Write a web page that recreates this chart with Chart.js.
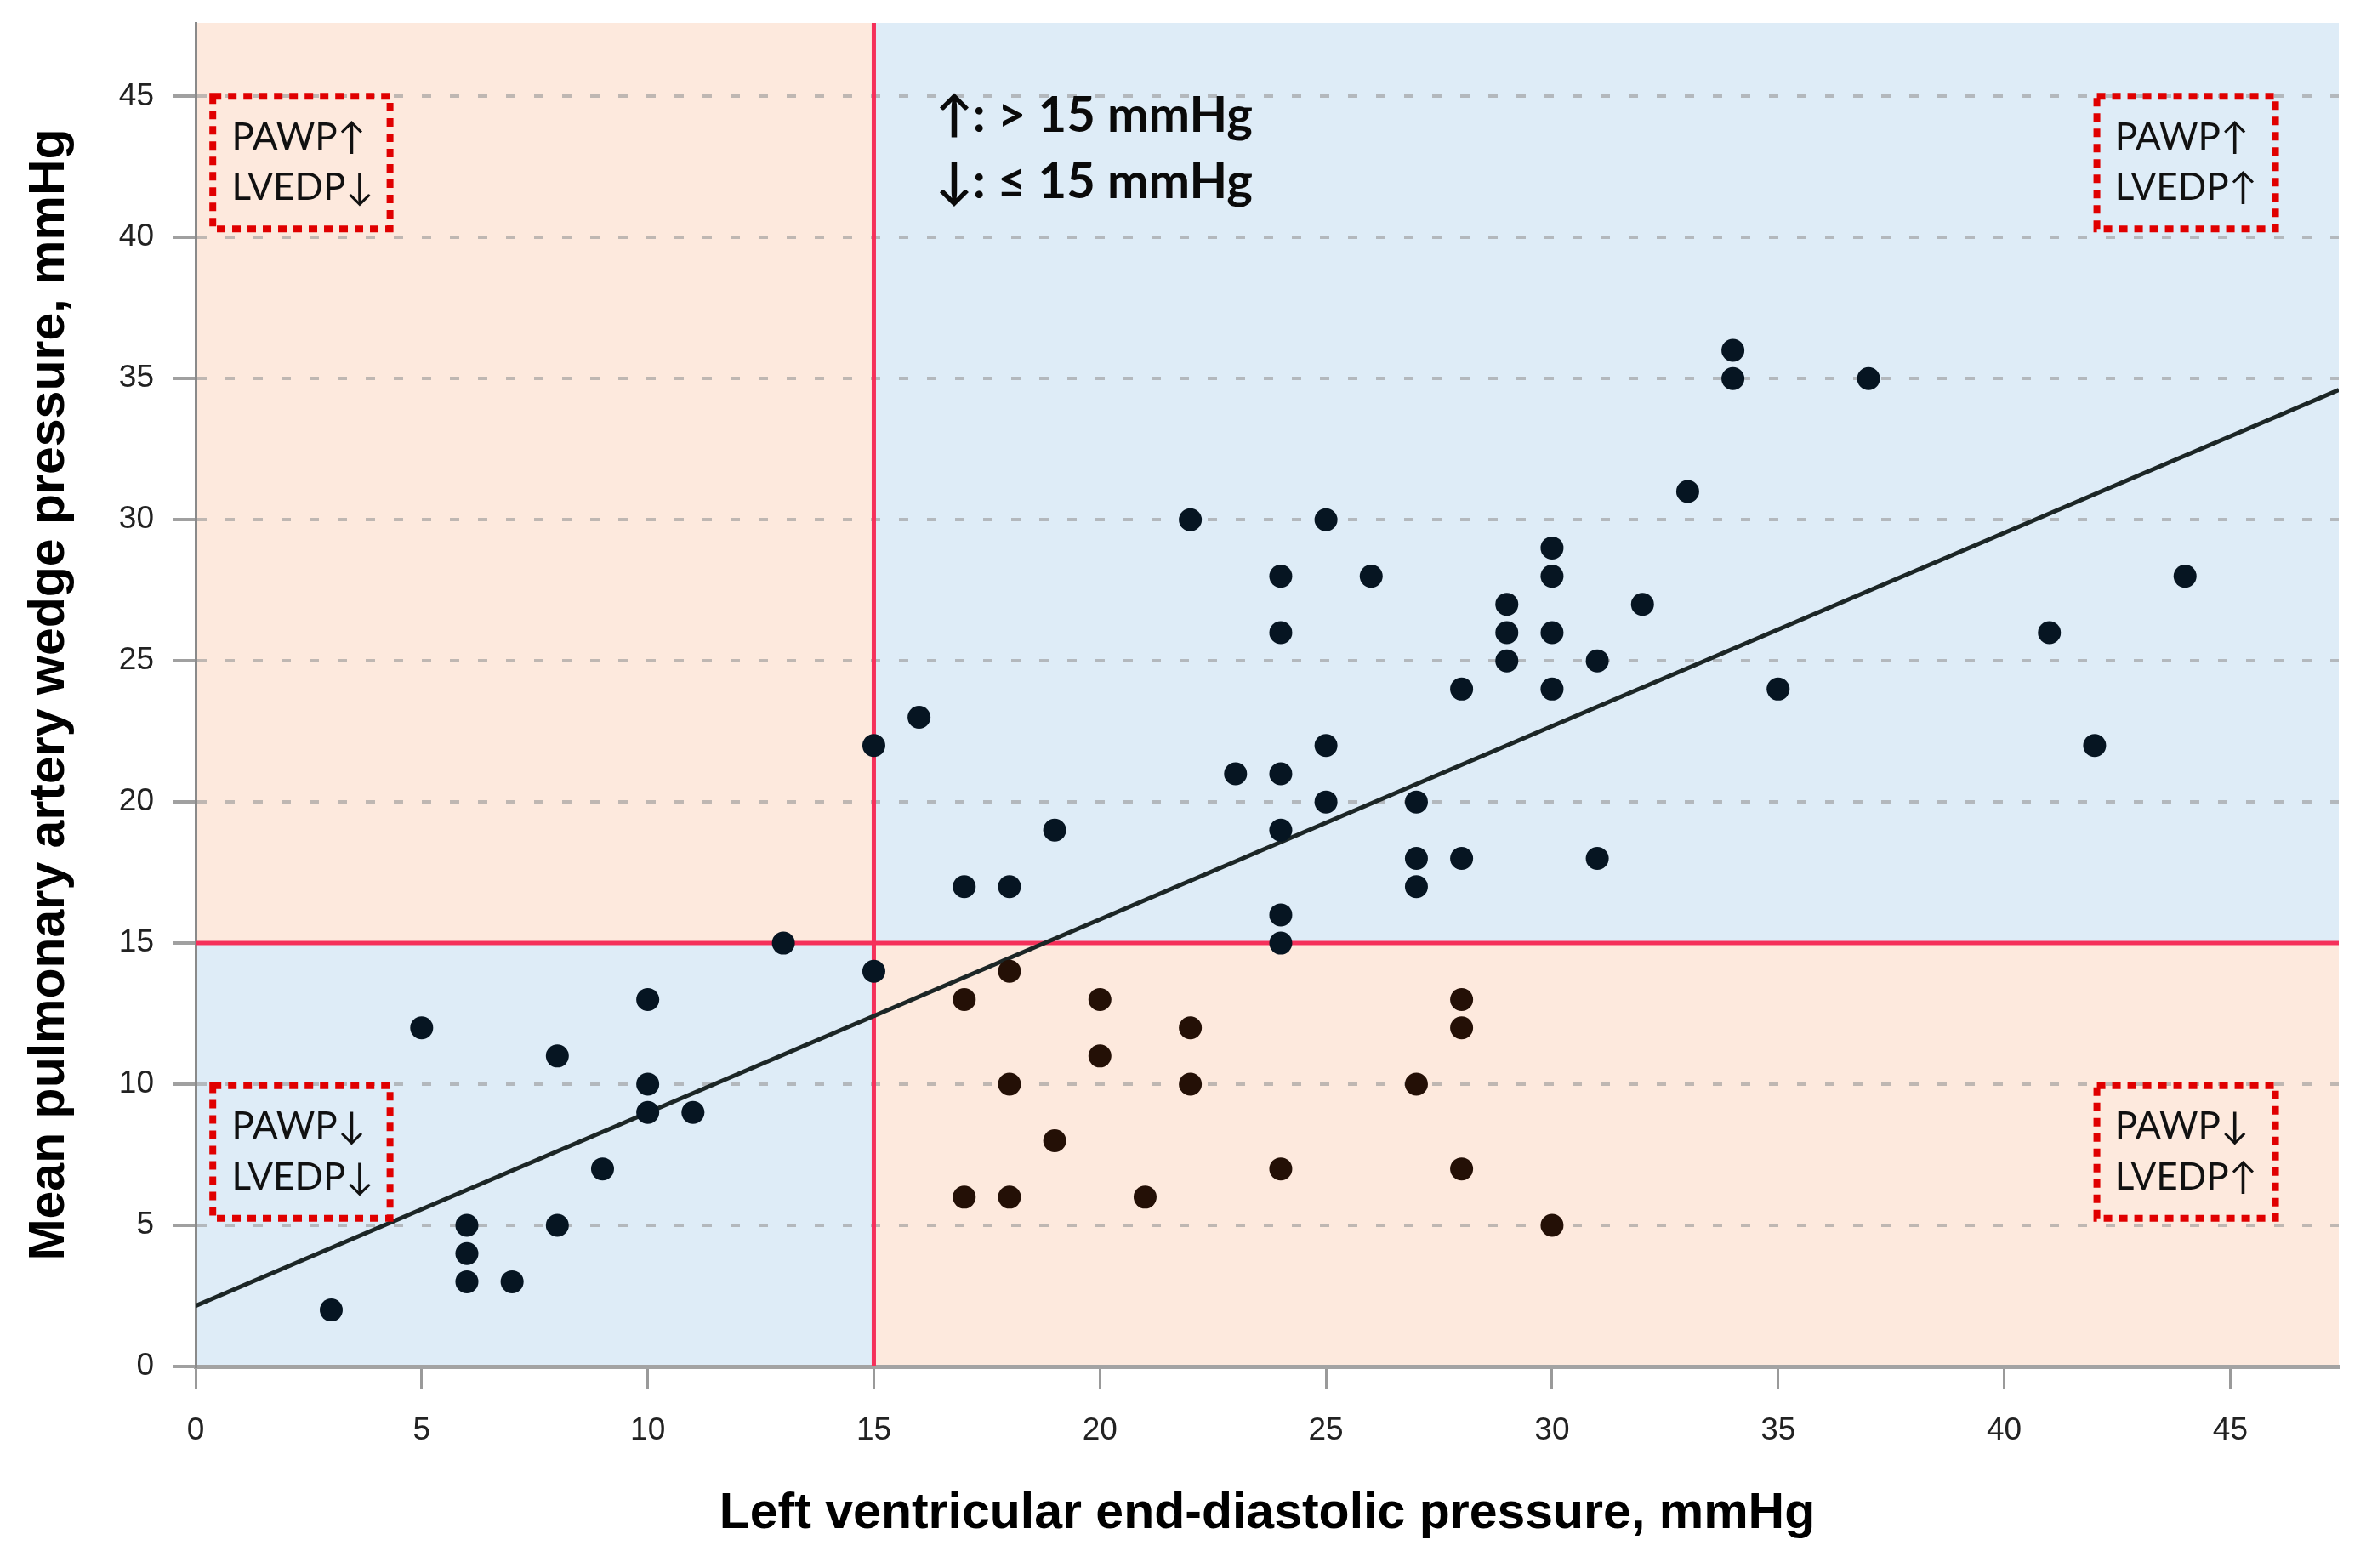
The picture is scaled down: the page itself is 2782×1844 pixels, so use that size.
<!DOCTYPE html>
<html>
<head>
<meta charset="utf-8">
<script src="https://cdn.jsdelivr.net/npm/chart.js@4.4.1/dist/chart.umd.min.js"></script>
<style>
html,body{margin:0;padding:0;background:#ffffff;}
#wrap{width:2782px;height:1844px;position:relative;}
</style>
</head>
<body>
<div id="wrap"><canvas id="c" width="2782" height="1844"></canvas></div>
<script>
// ---------- data ----------
const lvedp = [3,5,6,6,6,7,8,8,9,10,10,10,11,13,15,15,16,17,17,17,18,18,18,18,19,19,20,20,21,22,22,22,23,24,24,24,24,24,24,24,25,25,25,26,27,27,27,27,28,28,28,28,28,29,29,29,30,30,30,30,30,31,31,32,33,34,34,35,37,41,42,44];
const pawp  = [2,12,5,4,3,3,11,5,7,13,10,9,9,15,14,22,23,17,13,6,17,14,10,6,19,8,13,11,6,30,12,10,21,28,26,21,19,16,15,7,30,22,20,28,20,18,17,10,24,18,13,12,7,27,26,25,29,28,26,24,5,25,18,27,31,36,35,24,35,26,22,28];
const regX = [0, 47.4];
const regY = [2.15, 34.6];
const xTicks = [0,5,10,15,20,25,30,35,40,45];
const yTicks = [0,5,10,15,20,25,30,35,40,45];
const threshold = 15;
const xTitle = 'Left ventricular end-diastolic pressure, mmHg';
const yTitle = 'Mean pulmonary artery wedge pressure, mmHg';
const legendLines = ['\u2191: > 15 mmHg', '\u2193: \u2264 15 mmHg'];
const boxLabels = [
  ['PAWP\u2191', 'LVEDP\u2193'],
  ['PAWP\u2191', 'LVEDP\u2191'],
  ['PAWP\u2193', 'LVEDP\u2193'],
  ['PAWP\u2193', 'LVEDP\u2191']
];

// ---------- styles ----------
const ORANGE = '#fde9dd';
const BLUE = '#deecf7';
const RED = '#f5305a';
const SANS = "'Liberation Sans', Arial, sans-serif";
const CAL = "Lato, 'Open Sans', 'DejaVu Sans', sans-serif";

const quadPlugin = {
  id: 'quad',
  beforeDraw(chart) {
    const {ctx, chartArea: a, scales: {x, y}} = chart;
    const px = x.getPixelForValue(threshold), py = y.getPixelForValue(threshold);
    ctx.save();
    ctx.fillStyle = ORANGE; ctx.fillRect(a.left, a.top, px - a.left, py - a.top);
    ctx.fillStyle = BLUE;   ctx.fillRect(px, a.top, a.right - px, py - a.top);
    ctx.fillStyle = BLUE;   ctx.fillRect(a.left, py, px - a.left, a.bottom - py);
    ctx.fillStyle = ORANGE; ctx.fillRect(px, py, a.right - px, a.bottom - py);
    ctx.restore();
  },
  beforeDatasetsDraw(chart) {
    const {ctx, chartArea: a, scales: {x, y}} = chart;
    const px = x.getPixelForValue(threshold), py = y.getPixelForValue(threshold);
    ctx.save();
    ctx.strokeStyle = RED; ctx.lineWidth = 5;
    ctx.beginPath();
    ctx.moveTo(px, a.top); ctx.lineTo(px, a.bottom);
    ctx.moveTo(a.left, py); ctx.lineTo(a.right, py);
    ctx.stroke();
    ctx.restore();
  },
  afterDatasetsDraw(chart) {
    const {ctx, scales: {x, y}} = chart;
    // dotted boxes [x0,x1,yTop,yBottom, textX, line1Y, line2Y] in data units
    const boxes = [
      [0.38, 4.3, 45.0, 40.3, 0.8, 43.55, 41.75],
      [42.05, 46.0, 45.0, 40.3, 42.45, 43.55, 41.75],
      [0.38, 4.3, 9.95, 5.25, 0.8, 8.5, 6.7],
      [42.05, 46.0, 9.95, 5.25, 42.45, 8.5, 6.7]
    ];
    ctx.save();
    boxes.forEach((b, i) => {
      const x0 = x.getPixelForValue(b[0]), x1 = x.getPixelForValue(b[1]);
      const y0 = y.getPixelForValue(b[2]), y1 = y.getPixelForValue(b[3]);
      ctx.setLineDash([10, 8]);
      ctx.lineWidth = 8;
      ctx.strokeStyle = '#e00000';
      ctx.strokeRect(x0, y0, x1 - x0, y1 - y0);
      ctx.setLineDash([]);
      ctx.fillStyle = '#111111';
      ctx.font = "44px " + CAL;
      ctx.textAlign = 'left';
      ctx.textBaseline = 'middle';
      ctx.fillText(boxLabels[i][0], x.getPixelForValue(b[4]), y.getPixelForValue(b[5]));
      ctx.fillText(boxLabels[i][1], x.getPixelForValue(b[4]), y.getPixelForValue(b[6]));
    });
    ctx.font = "bold 58px " + CAL;
    ctx.fillStyle = '#0a0a0a';
    ctx.textAlign = 'left';
    ctx.textBaseline = 'middle';
    ctx.fillText(legendLines[0], x.getPixelForValue(16.37), y.getPixelForValue(44.3));
    ctx.fillText(legendLines[1], x.getPixelForValue(16.37), y.getPixelForValue(41.95));
    ctx.restore();
  }
};

const points = lvedp.map((v, i) => ({x: v, y: pawp[i]}));

new Chart(document.getElementById('c'), {
  data: {
    datasets: [
      {
        type: 'scatter',
        data: points,
        pointRadius: 13.5,
        pointHoverRadius: 13.5,
        pointBorderWidth: 0,
        pointBackgroundColor: ctx => {
          const p = ctx.raw;
          return (p && p.x > threshold && p.y < threshold) ? '#241006' : '#061522';
        },
        order: 1
      },
      {
        type: 'line',
        data: regX.map((v, i) => ({x: v, y: regY[i]})),
        borderColor: '#1c2626',
        borderWidth: 5,
        pointRadius: 0,
        fill: false,
        order: 2
      }
    ]
  },
  options: {
    responsive: false,
    maintainAspectRatio: false,
    devicePixelRatio: 1,
    animation: false,
    layout: {padding: {top: 27, right: 32, left: 0, bottom: 0}},
    plugins: {legend: {display: false}, tooltip: {enabled: false}},
    scales: {
      x: {
        type: 'linear',
        position: 'bottom',
        min: 0,
        max: 47.4,
        afterBuildTicks: s => { s.ticks = xTicks.map(v => ({value: v})); },
        afterFit: s => { s.height = 237; s.paddingLeft = 0; s.paddingRight = 0; s.paddingTop = 0; s.paddingBottom = 0; },
        grid: {display: true, drawOnChartArea: false, drawTicks: true, tickLength: 26, tickColor: '#9a9a9a', tickWidth: 3},
        border: {display: true, color: '#a3a3a3', width: 5},
        ticks: {font: {family: SANS, size: 37}, color: '#222222', padding: 28, maxRotation: 0, autoSkip: false},
        title: {display: true, text: xTitle, color: '#000000', font: {family: SANS, size: 59, weight: 'bold', lineHeight: 1.2}, padding: {top: 0, bottom: 28}}
      },
      y: {
        type: 'linear',
        min: 0,
        max: 47.6,
        afterBuildTicks: s => { s.ticks = yTicks.map(v => ({value: v})); },
        afterFit: s => { s.width = 230; s.paddingLeft = 0; s.paddingRight = 0; s.paddingTop = 0; s.paddingBottom = 0; },
        grid: {display: true, drawOnChartArea: true, color: 'rgba(150,150,150,0.6)', lineWidth: 4, drawTicks: true, tickLength: 26, tickColor: '#a0a0a0', tickWidth: 4},
        border: {display: true, color: '#8a8a8a', width: 3, dash: [11, 22]},
        ticks: {font: {family: SANS, size: 37}, color: '#222222', padding: 23, autoSkip: false},
        title: {display: true, text: yTitle, color: '#000000', font: {family: SANS, size: 59, weight: 'bold', lineHeight: 1.2}, padding: {top: 23, bottom: 0}}
      }
    }
  },
  plugins: [quadPlugin]
});
</script>
</body>
</html>
